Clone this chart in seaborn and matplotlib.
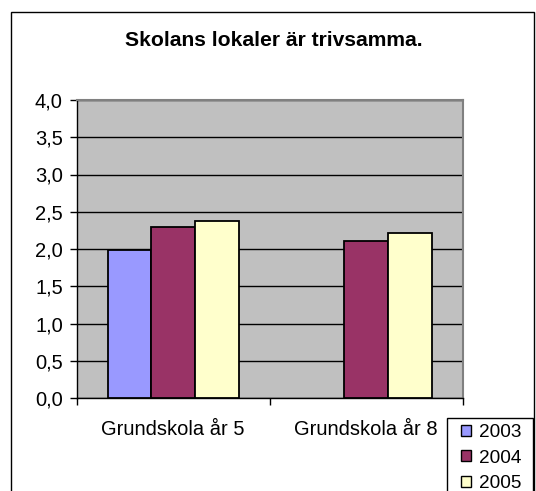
import numpy as np
import pandas as pd
import matplotlib
matplotlib.use("Agg")
import matplotlib.pyplot as plt
import matplotlib.patches as mpatches
from matplotlib.ticker import FuncFormatter, MultipleLocator, FixedLocator
import seaborn as sns

# Survey answers: mean score per school year and survey round
categories = ["Grundskola år 5", "Grundskola år 8"]
years = ["2003", "2004", "2005"]
values_2003 = [1.98, np.nan]
values_2004 = [2.30, 2.11]
values_2005 = [2.38, 2.22]
title = "Skolans lokaler är trivsamma."

colors = ["#9999FF", "#993366", "#FFFFCC"]

df = pd.DataFrame({
    "kategori": categories * 3,
    "år": [y for y in years for _ in categories],
    "värde": values_2003 + values_2004 + values_2005,
})

sns.set_theme(style="white")
plt.rcParams["font.family"] = ["Liberation Sans", "DejaVu Sans"]
plt.rcParams["text.color"] = "black"

W, H = 536, 491
fig = plt.figure(figsize=(W / 100, H / 100), dpi=100)
fig.patch.set_facecolor("white")
ax = fig.add_axes([76.7 / W, 1 - 398 / H, (462.7 - 76.7) / W, (398 - 100) / H])

sns.barplot(data=df, x="kategori", y="värde", hue="år", order=categories,
            hue_order=years, palette=colors, width=0.677, gap=0,
            edgecolor="black", linewidth=1.3, saturation=1, ax=ax,
            legend=False, errorbar=None, zorder=3)

ax.set_facecolor("#C0C0C0")
ax.set_xlim(-0.5, 1.5)
ax.set_ylim(0, 4.0)
ax.yaxis.set_major_locator(MultipleLocator(0.5))
ax.yaxis.set_major_formatter(FuncFormatter(lambda v, p: f"{v:.1f}".replace(".", ",")))
ax.grid(axis="y", color="black", linewidth=1.0, zorder=0)
ax.set_axisbelow(True)
ax.set_xlabel("")
ax.set_ylabel("")

# category labels without ticks, boundary ticks as minor ticks
ax.tick_params(axis="x", which="major", length=0, pad=16, labelsize=14.5, colors="black")
ax.xaxis.set_minor_locator(FixedLocator([-0.5, 0.5, 1.5]))
ax.tick_params(axis="x", which="minor", length=5, width=1, color="black", direction="out", bottom=True)
ax.tick_params(axis="y", which="major", length=5, width=1, color="black", direction="out",
               left=True, pad=5, labelsize=14.5, labelcolor="black")

for side in ["left", "bottom"]:
    ax.spines[side].set_color("black")
    ax.spines[side].set_linewidth(1.0)
for side in ["top", "right"]:
    ax.spines[side].set_color("#808080")
    ax.spines[side].set_linewidth(1.5)

# outer chart frame
fig.patches.append(mpatches.Rectangle((11 / W, -0.05), (534 - 11) / W, 1.05 - 12 / H,
                                      transform=fig.transFigure, fill=False,
                                      edgecolor="black", linewidth=1.0))

fig.text(274 / W, 1 - 41 / H, title, ha="center", va="center",
         fontsize=15.2, fontweight="bold", color="black")

# legend box, running off the bottom edge of the figure
fig.patches.append(mpatches.Rectangle((447 / W, -0.05), (533 - 447) / W, 1.05 - 418 / H,
                                      transform=fig.transFigure, facecolor="white",
                                      edgecolor="black", linewidth=1.0, zorder=4))

handles = [mpatches.Patch(facecolor=c, edgecolor="black", linewidth=1.0) for c in colors]
leg = fig.legend(handles, years, loc="upper left", bbox_to_anchor=(461 / W, 1 - 424 / H),
                 bbox_transform=fig.transFigure, frameon=False, labelcolor="black",
                 fontsize=13.7, handlelength=0.5, handleheight=0.5, handletextpad=0.45,
                 labelspacing=0.45, borderpad=0, borderaxespad=0)
leg.set_zorder(5)

fig.savefig("out.png", dpi=100)
